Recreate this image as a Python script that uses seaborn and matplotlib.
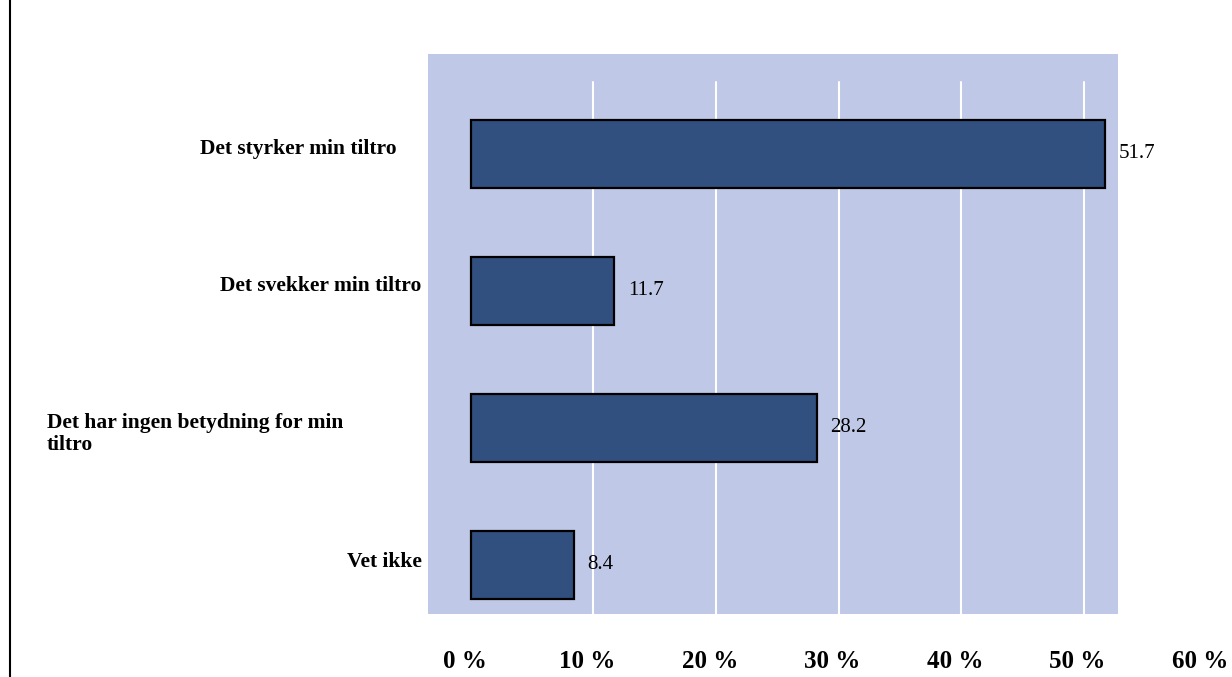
import matplotlib
matplotlib.use("Agg")
import matplotlib.pyplot as plt
from matplotlib.lines import Line2D
import matplotlib.transforms as mtransforms
import seaborn as sns
import pandas as pd

# Data
categories = [
    "Det styrker min tiltro",
    "Det svekker min tiltro",
    "Det har ingen betydning for min\ntiltro",
    "Vet ikke",
]
values = [51.7, 11.7, 28.2, 8.4]
tick_values = [0, 10, 20, 30, 40, 50, 60]
tick_labels = ["0 %", "10 %", "20 %", "30 %", "40 %", "50 %", "60 %"]

df = pd.DataFrame({"kategori": categories, "andel": values})

W, H = 1232, 677
sns.set_theme(style="white")
plt.rcParams["font.family"] = ["Liberation Serif", "DejaVu Serif"]
plt.rcParams["text.color"] = "black"

fig = plt.figure(figsize=(W / 100, H / 100), dpi=100)
fig.patch.set_facecolor("white")

# plotting area in figure pixels
left_px, right_px, top_px, bottom_px = 428, 1118, 54, 614
ax = fig.add_axes([left_px / W, 1 - bottom_px / H,
                   (right_px - left_px) / W, (bottom_px - top_px) / H])
ax.set_facecolor("#BFC8E6")

sns.barplot(data=df, x="andel", y="kategori", orient="h", color="#31507F",
            edgecolor="black", linewidth=1.6, width=0.5, saturation=1,
            ax=ax, zorder=3)

ax.set_xlim(-3.5, 52.8)
ax.set_ylim(3.358, -0.73)

# white vertical gridlines
grid_top = -0.526
for v in tick_values[1:]:
    if v < 52.8:
        ax.plot([v, v], [grid_top, 3.358], color="white", lw=1.5, zorder=1)

for s in ax.spines.values():
    s.set_visible(False)
ax.set_xticks([])
ax.set_yticks([])
ax.set_xlabel("")
ax.set_ylabel("")

# value labels
for i, v in enumerate(values):
    ax.annotate(f"{v:.1f}", xy=(v, i), xytext=(10, 0), textcoords="offset points",
                ha="left", va="center", fontsize=15, color="black", zorder=4)

# x tick labels below the plot area
xoff = mtransforms.offset_copy(ax.transData, fig=fig, x=-6, y=0, units="dots")
xt = mtransforms.blended_transform_factory(xoff, fig.transFigure)
for v, lab in zip(tick_values, tick_labels):
    ax.text(v, 1 - 661 / H, lab, transform=xt, ha="center", va="center",
            fontsize=18, fontweight="bold", color="black", clip_on=False)

# category labels
label_x = [397, 421, 47, 422]
label_ha = ["right", "right", "left", "right"]
label_dy = [-5, -5, 6, -3]
for i, (lab, lx, ha, dy) in enumerate(zip(categories, label_x, label_ha, label_dy)):
    ty = mtransforms.offset_copy(ax.transData, fig=fig, x=0, y=-dy, units="dots")
    tr = mtransforms.blended_transform_factory(fig.transFigure, ty)
    ax.text(lx / W, i, lab, transform=tr, ha=ha, va="center", fontsize=15.5,
            fontweight="bold", color="black", multialignment="left",
            clip_on=False, linespacing=1.15)

# left frame line
fig.add_artist(Line2D([10 / W, 10 / W], [0, 1], transform=fig.transFigure,
                      color="black", lw=1.5))

fig.savefig("out.png", dpi=100)
